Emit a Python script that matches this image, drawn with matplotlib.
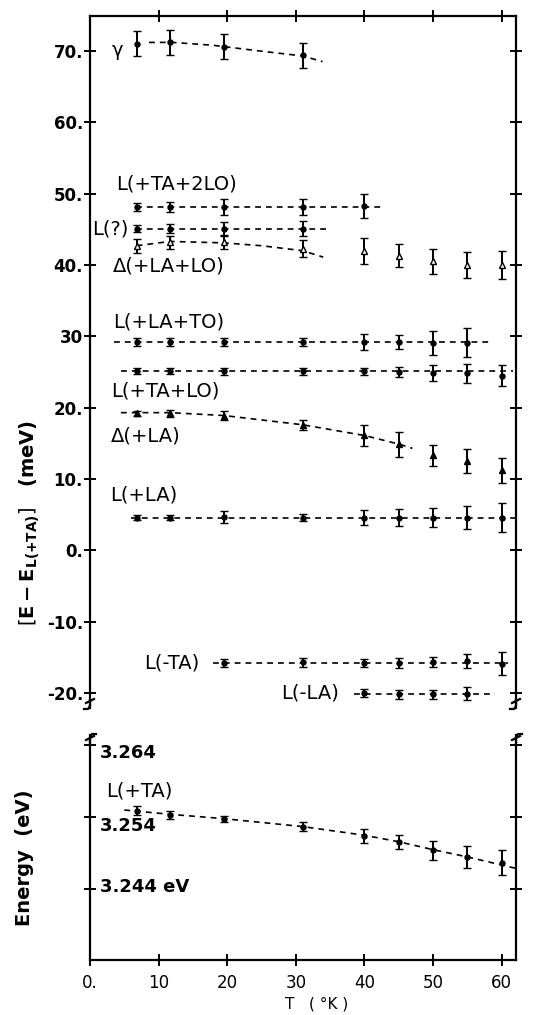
import matplotlib
matplotlib.use("Agg")
import matplotlib.pyplot as plt
from matplotlib.lines import Line2D

# ---------------- data ----------------
T_all = [6.8, 11.7, 19.5, 31, 40, 45, 50, 55, 60]

gamma_T = [6.8, 11.7, 19.5, 31]
gamma_E = [71.0, 71.2, 70.6, 69.4]
gamma_err = [1.75, 1.75, 1.75, 1.75]
gamma_fit_T = [8.6, 12, 17.9, 24.7, 31, 33.9]
gamma_fit_E = [71.2, 71.2, 70.8, 70.0, 69.3, 68.5]

ta2lo_T = [6.8, 11.7, 19.5, 31, 40]
ta2lo_E = [48.1, 48.1, 48.1, 48.1, 48.3]
ta2lo_err = [0.6, 0.7, 1.1, 1.1, 1.7]
ta2lo_line_T = [6.7, 43.0]
ta2lo_line_E = [48.1, 48.1]

lq_T = [6.8, 11.7, 19.5, 31]
lq_E = [45.1, 45.1, 45.0, 45.1]
lq_err = [0.5, 0.6, 1.0, 1.1]
lq_line_T = [6.7, 35.0]
lq_line_E = [45.1, 45.1]

dlalo_T = [6.8, 11.7, 19.5, 31, 40, 45, 50, 55, 60]
dlalo_E = [42.7, 43.2, 43.2, 42.3, 42.0, 41.3, 40.5, 40.0, 40.0]
dlalo_err = [1.0, 0.9, 1.0, 1.25, 1.8, 1.6, 1.8, 1.8, 2.0]
dlalo_fit_T = [6.8, 11.7, 19.5, 25, 31, 34]
dlalo_fit_E = [42.7, 43.3, 43.1, 42.7, 42.0, 41.1]

lato_T = [6.8, 11.7, 19.5, 31, 40, 45, 50, 55]
lato_E = [29.2, 29.2, 29.2, 29.2, 29.2, 29.2, 29.1, 29.1]
lato_err = [0.5, 0.5, 0.5, 0.6, 1.1, 1.0, 1.7, 2.0]
lato_line_T = [3.5, 58.7]
lato_line_E = [29.2, 29.2]

talo_T = [6.8, 11.7, 19.5, 31, 40, 45, 50, 55, 60]
talo_E = [25.1, 25.1, 25.1, 25.1, 25.1, 25.0, 24.9, 24.8, 24.5]
talo_err = [0.4, 0.4, 0.5, 0.5, 0.5, 0.7, 1.1, 1.3, 1.5]
talo_line_T = [4.5, 61.6]
talo_line_E = [25.1, 25.1]

dla_T = [6.8, 11.7, 19.5, 31, 40, 45, 50, 55, 60]
dla_E = [19.2, 19.2, 18.9, 17.5, 16.1, 14.9, 13.3, 12.5, 11.2]
dla_err = [0.4, 0.5, 0.6, 0.7, 1.5, 1.75, 1.5, 1.7, 1.8]
dla_fit_T = [4.5, 11.7, 19.5, 31, 40, 45, 47]
dla_fit_E = [19.3, 19.3, 18.9, 17.6, 16.1, 14.9, 14.3]

lla_T = [6.8, 11.7, 19.5, 31, 40, 45, 50, 55, 60]
lla_E = [4.6, 4.6, 4.7, 4.6, 4.6, 4.6, 4.6, 4.6, 4.6]
lla_err = [0.4, 0.4, 0.8, 0.5, 1.0, 1.2, 1.35, 1.6, 2.0]
lla_line_T = [6.0, 62.1]
lla_line_E = [4.6, 4.6]

mta_T = [19.5, 31, 40, 45, 50, 55, 60]
mta_E = [-15.8, -15.7, -15.8, -15.8, -15.7, -15.5, -15.9]
mta_err = [0.6, 0.6, 0.6, 0.7, 0.7, 1.0, 1.6]
mta_line_T = [18.0, 61.0]
mta_line_E = [-15.8, -15.8]

mla_T = [40, 45, 50, 55]
mla_E = [-20.0, -20.2, -20.2, -20.1]
mla_err = [0.5, 0.6, 0.6, 0.9]
mla_line_T = [38.5, 59.0]
mla_line_E = [-20.1, -20.1]

lta_T = [6.8, 11.7, 19.5, 31, 40, 45, 50, 55, 60]
lta_E = [3.2549, 3.2543, 3.2537, 3.2527, 3.2514, 3.2506, 3.2494, 3.2485, 3.2477]
lta_err = [0.0006, 0.0005, 0.0004, 0.0006, 0.0010, 0.0010, 0.0013, 0.0015, 0.0017]
lta_fit_T = [5.0, 11.7, 19.5, 31, 40, 45, 50, 55, 62.1]
lta_fit_E = [3.2550, 3.2544, 3.2538, 3.2527, 3.2515, 3.2506, 3.2495, 3.2485, 3.2469]

top_yticks = [70, 60, 50, 40, 30, 20, 10, 0, -10, -20]
top_ylabels = ["70.", "60.", "50.", "40.", "30", "20.", "10.", "0.", "-10.", "-20."]
x_ticks = [0, 10, 20, 30, 40, 50, 60]
x_labels = ["0.", "10", "20", "30", "40", "50", "60"]
bot_yticks = [3.244, 3.254, 3.264]
bot_label_text = ["3.244 eV", "3.254", "3.264"]
bot_label_y = [3.2443, 3.2528, 3.2629]

# ---------------- figure ----------------
W, H = 544, 1015
fig = plt.figure(figsize=(W / 100, H / 100), dpi=100)
fig.patch.set_facecolor("white")

ax1 = fig.add_axes([90 / W, 1 - 708 / H, 426 / W, 692 / H])
ax2 = fig.add_axes([90 / W, 1 - 960 / H, 426 / W, 225 / H])

for ax in (ax1, ax2):
    ax.set_xlim(0, 62.1)
    for s in ax.spines.values():
        s.set_linewidth(1.6)
ax1.set_ylim(-22.1, 74.9)
ax2.set_ylim(3.2342, 3.2654)
ax1.spines["bottom"].set_visible(False)
ax2.spines["top"].set_visible(False)

DASH = (0, (3.5, 3))
eb = dict(color="k", ecolor="k", elinewidth=1.4, capsize=2.6, capthick=1.4, ls="none")

def series(ax, x, y, e, marker="o", ms=3.6, mfc="k"):
    ax.errorbar(x, y, yerr=e, fmt=marker, ms=ms, mfc=mfc, mec="k", mew=1.0, **eb)

def dline(ax, x, y):
    ax.plot(x, y, color="k", lw=1.2, ls=DASH)

dline(ax1, gamma_fit_T, gamma_fit_E)
series(ax1, gamma_T, gamma_E, gamma_err)
dline(ax1, ta2lo_line_T, ta2lo_line_E)
series(ax1, ta2lo_T, ta2lo_E, ta2lo_err)
dline(ax1, lq_line_T, lq_line_E)
series(ax1, lq_T, lq_E, lq_err)
dline(ax1, dlalo_fit_T, dlalo_fit_E)
series(ax1, dlalo_T, dlalo_E, dlalo_err, marker="^", ms=5, mfc="white")
dline(ax1, lato_line_T, lato_line_E)
series(ax1, lato_T, lato_E, lato_err)
dline(ax1, talo_line_T, talo_line_E)
series(ax1, talo_T, talo_E, talo_err)
dline(ax1, dla_fit_T, dla_fit_E)
series(ax1, dla_T, dla_E, dla_err, marker="^", ms=4.5)
dline(ax1, lla_line_T, lla_line_E)
series(ax1, lla_T, lla_E, lla_err)
dline(ax1, mta_line_T, mta_line_E)
series(ax1, mta_T, mta_E, mta_err)
dline(ax1, mla_line_T, mla_line_E)
series(ax1, mla_T, mla_E, mla_err)

dline(ax2, lta_fit_T, lta_fit_E)
series(ax2, lta_T, lta_E, lta_err)

# ---------------- ticks ----------------
tk = dict(direction="inout", length=8, width=1.4, color="k")
ax1.set_xticks(x_ticks[1:])
ax1.tick_params(axis="x", bottom=False, top=True, labelbottom=False, labeltop=False, **tk)
ax1.set_yticks(top_yticks)
ax1.set_yticklabels(top_ylabels, fontsize=12, fontweight="bold")
ax1.tick_params(axis="y", left=True, right=True, pad=1, **tk)

ax2.set_xticks(x_ticks)
ax2.set_xticklabels(x_labels, fontsize=12)
ax2.tick_params(axis="x", bottom=True, top=False, pad=6, **tk)
ax2.set_yticks(bot_yticks)
ax2.set_yticklabels([])
ax2.tick_params(axis="y", left=True, right=True, **tk)
for txt, yv in zip(bot_label_text, bot_label_y):
    ax2.text(1.4, yv, txt, fontsize=13, fontweight="bold", ha="left", va="center")

# ---------------- labels ----------------
lab = dict(fontsize=14, ha="left", va="center")
ax1.text(4.0, 70.0, "γ", fontsize=14, ha="center", va="center")
ax1.text(3.8, 51.4, "L(+TA+2LO)", **lab)
ax1.text(0.3, 45.1, "L(?)", **lab)
ax1.text(3.3, 39.9, "Δ(+LA+LO)", **lab)
ax1.text(3.3, 32.0, "L(+LA+TO)", **lab)
ax1.text(3.1, 22.4, "L(+TA+LO)", **lab)
ax1.text(3.1, 16.0, "Δ(+LA)", **lab)
ax1.text(3.0, 7.75, "L(+LA)", **lab)
ax1.text(7.9, -15.8, "L(-TA)", **lab)
ax1.text(27.8, -20.0, "L(-LA)", **lab)
ax2.text(2.4, 3.2576, "L(+TA)", **lab)

fig.text(30 / W, 1 - 523 / H, r"$\left[\mathbf{E - E_{L(+TA)}}\right]$   (meV)",
         rotation=90, fontsize=14, fontweight="bold", ha="center", va="center")
fig.text(25 / W, 1 - 858 / H, "Energy  (eV)", rotation=90, fontsize=14,
         fontweight="bold", ha="center", va="center")
fig.text(317 / W, 1 - 1004 / H, "T   ( °K )", fontsize=11, ha="center", va="center")

# ---------------- axis break marks ----------------
def hook(pts):
    xs = [p[0] / 100 for p in pts]
    ys = [(H - p[1]) / 100 for p in pts]
    fig.add_artist(Line2D(xs, ys, transform=fig.dpi_scale_trans, color="k", lw=1.6))

for xs in (90, 516):
    hook([(xs, 700), (xs, 706), (xs - 2, 709), (xs - 6, 709)])
    hook([(xs - 4, 703), (xs + 4, 699)])
    hook([(xs, 745), (xs, 737), (xs + 2, 734), (xs + 6, 734)])
    hook([(xs - 4, 740), (xs + 4, 736)])

fig.savefig("out.png", dpi=100, facecolor="white")
